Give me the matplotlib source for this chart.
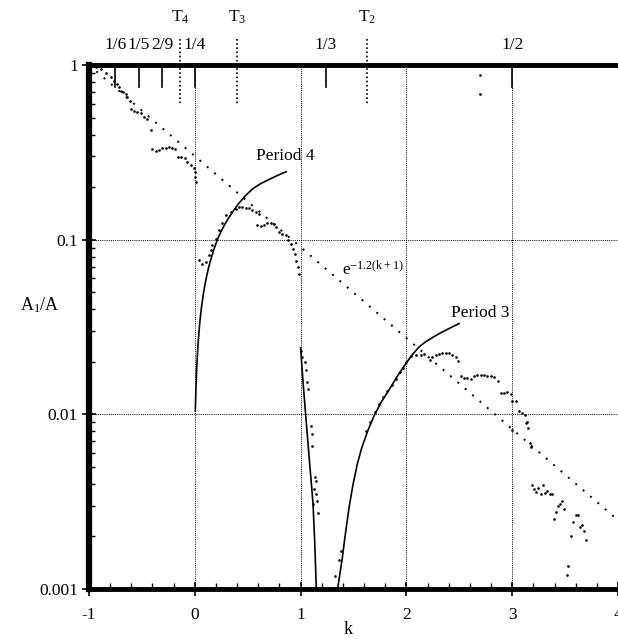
import matplotlib
matplotlib.use("Agg")
import matplotlib.pyplot as plt
import matplotlib.ticker as mticker
import matplotlib.transforms as mtrans
import numpy as np

plt.rcParams['font.family'] = ['Liberation Serif', 'DejaVu Serif']
plt.rcParams['mathtext.fontset'] = 'custom'
plt.rcParams['mathtext.rm'] = 'Liberation Serif'
plt.rcParams['mathtext.it'] = 'Liberation Serif:italic'
plt.rcParams['axes.unicode_minus'] = False

# ---------------- data ----------------
# numerical A1/A points
k_dots = [-0.937, -0.889, -0.842, -0.795, -0.764, -0.732, -0.716, -0.700, -0.676, -0.653,
          -0.638, -0.612, -0.606, -0.575, -0.543, -0.511, -0.480, -0.449, -0.417,
          -0.401, -0.370, -0.338, -0.307, -0.275, -0.244, -0.213, -0.190,
          -0.159, -0.128, -0.096, -0.071, -0.039, -0.008, 0.000, 0.005, 0.010,
          0.040, 0.071, 0.103, 0.134, 0.150, 0.166, 0.198, 0.229, 0.260, 0.292, 0.339,
          0.387, 0.418, 0.449, 0.481, 0.512, 0.544, 0.575, 0.607,
          0.591, 0.622, 0.654, 0.685, 0.717, 0.749, 0.770, 0.796, 0.827, 0.858,
          0.884, 0.906, 0.928, 0.947, 0.959, 0.972, 0.985,
          1.001, 1.010, 1.042, 1.054, 1.063, 1.073, 1.095, 1.104, 1.111, 1.117,
          1.127, 1.133, 1.142, 1.148, 1.151, 1.161,
          1.322, 1.363, 1.378,
          1.62, 1.66, 1.70, 1.74, 1.78, 1.82, 1.86, 1.90, 1.94, 1.97,
          1.993, 2.040, 2.088, 2.135, 2.166, 2.220, 2.245, 2.277, 2.308, 2.339,
          2.371, 2.403, 2.434, 2.466, 2.491,
          2.512, 2.544, 2.576, 2.607, 2.639, 2.670, 2.702, 2.733, 2.765, 2.797,
          2.828, 2.869,
          2.891, 2.922, 2.954, 2.986, 3.001, 3.033, 3.064, 3.096, 3.121, 3.143, 3.152,
          3.001, 3.127, 3.168, 3.175,
          3.184, 3.206, 3.228, 3.247, 3.269, 3.291, 3.310, 3.332, 3.354, 3.373,
          3.395, 3.417, 3.436, 3.449, 3.467, 3.492,
          3.556, 3.575, 3.600, 3.619, 3.638, 3.663, 3.682, 3.700, 3.530, 3.515,
          2.700, 2.700]
a_dots = [0.970, 0.945, 0.904, 0.857, 0.813, 0.778, 0.745, 0.713, 0.700, 0.682,
          0.653, 0.624, 0.557, 0.547, 0.540, 0.533, 0.501, 0.489, 0.425,
          0.329, 0.323, 0.326, 0.333, 0.337, 0.340, 0.337, 0.329,
          0.298, 0.296, 0.292, 0.279, 0.267, 0.256, 0.245, 0.230, 0.215,
          0.077, 0.073, 0.0747, 0.0815, 0.087, 0.093, 0.1016, 0.113, 0.124, 0.138, 0.144,
          0.150, 0.153, 0.154, 0.151, 0.151, 0.148, 0.144, 0.141,
          0.121, 0.120, 0.122, 0.125, 0.125, 0.123, 0.118, 0.111, 0.108, 0.106,
          0.100, 0.095, 0.089, 0.083, 0.076, 0.070, 0.064,
          0.0230, 0.0213, 0.0200, 0.0180, 0.0153, 0.0140, 0.00857, 0.00775, 0.00656, 0.00308,
          0.00375, 0.00437, 0.00415, 0.00348, 0.00318, 0.00273,
          0.00118, 0.00147, 0.00166,
          0.0080, 0.0091, 0.0103, 0.0114, 0.0125, 0.0136, 0.0148, 0.0160, 0.0174, 0.0185,
          0.0199, 0.0215, 0.0220, 0.0220, 0.0223, 0.0206, 0.0213, 0.0218, 0.0223, 0.0225,
          0.0226, 0.0225, 0.0220, 0.0213, 0.0202,
          0.0165, 0.0162, 0.0162, 0.0160, 0.0165, 0.0169, 0.0169, 0.0167, 0.0165, 0.0165,
          0.0164, 0.0155,
          0.0132, 0.0132, 0.0134, 0.0131, 0.0119, 0.0120, 0.0104, 0.0102, 0.00996, 0.00903, 0.0084,
          0.00817, 0.0089, 0.00685, 0.0065,
          0.00392, 0.00375, 0.00359, 0.00378, 0.00351, 0.00392, 0.00354, 0.00363, 0.00351, 0.00351,
          0.00252, 0.00275, 0.00297, 0.00305, 0.00318, 0.00288,
          0.00200, 0.00242, 0.00267, 0.00267, 0.00228, 0.00234, 0.00216, 0.00190, 0.00135, 0.00121,
          0.88, 0.68]

# Period 4 analytic curve (two branches)
p4_k = [0.005, 0.010, 0.015, 0.022, 0.030, 0.038, 0.045, 0.055, 0.065, 0.080, 0.095,
        0.110, 0.130, 0.150, 0.175, 0.200, 0.225, 0.250, 0.285, 0.323, 0.370, 0.418,
        0.480, 0.544, 0.620, 0.700, 0.780, 0.862]
p4_a = [0.0105, 0.0135, 0.0165, 0.0205, 0.0248, 0.0288, 0.0325, 0.0372, 0.0418, 0.0485, 0.0548,
        0.0610, 0.0690, 0.0765, 0.0860, 0.0950, 0.1040, 0.1120, 0.1230, 0.1340, 0.1480, 0.1620,
        0.1790, 0.1950, 0.2090, 0.2210, 0.2330, 0.2450]
p4b_k = [1.000, 1.025, 1.047, 1.067, 1.086, 1.102, 1.117, 1.133, 1.148, 1.152]
p4b_a = [0.0240, 0.0148, 0.0101, 0.0072, 0.0052, 0.0040, 0.0031, 0.0019, 0.00103, 0.0009]

# Period 3 analytic curve
p3_k = [1.340, 1.355, 1.372, 1.394, 1.420, 1.457, 1.495, 1.536, 1.580, 1.640, 1.694,
        1.760, 1.836, 1.910, 1.993, 2.060, 2.119, 2.180, 2.245, 2.310, 2.371, 2.435, 2.497]
p3_a = [0.0009, 0.00105, 0.00123, 0.00150, 0.00200, 0.00290, 0.00395, 0.00520, 0.00650, 0.00820,
        0.00980, 0.01170, 0.01380, 0.01640, 0.01950, 0.02210, 0.02430, 0.02600, 0.02750, 0.02900,
        0.03030, 0.03170, 0.03310]

# exponential fit e^{-1.2(k+1)} (straight on log axis)
exp_k = [-1.0, 4.0]
exp_a = [1.0, 0.00248]

# top annotations
frac_pos = [-0.75, -0.53, -0.31, 0.0, 1.24, 3.0]
frac_lab = ['1/6', '1/5', '2/9', '1/4', '1/3', '1/2']
T_pos = [-0.14, 0.40, 1.63]
T_lab = ['4', '3', '2']

xticks = [-1, 0, 1, 2, 3, 4]
yticks = [0.001, 0.01, 0.1, 1]
ytick_lab = ['0.001', '0.01', '0.1', '1']

# ---------------- figure ----------------
fig = plt.figure(figsize=(6.18, 6.39), dpi=100)
ax = fig.add_axes([0.144, 0.0782, 0.856, 0.820])
ax.set_yscale('log')
ax.set_xlim(-1, 4)
ax.set_ylim(0.001, 1)

# grid
for gx in [0, 1, 2, 3]:
    ax.axvline(gx, color='black', lw=0.7, ls=(0, (1, 1.2)), zorder=1)
for gy in [0.01, 0.1]:
    ax.axhline(gy, color='black', lw=0.7, ls=(0, (1, 1.2)), zorder=1)

# exponential
ax.plot(exp_k, exp_a, color='black', lw=1.4, ls=(0, (1, 4)), zorder=2)
# curves
ax.plot(p4_k, p4_a, color='black', lw=1.2, zorder=3)
ax.plot(p4b_k, p4b_a, color='black', lw=1.2, zorder=3)
ax.plot(p3_k, p3_a, color='black', lw=1.2, zorder=3)
# dots
ax.plot(k_dots, a_dots, ls='none', marker='o', ms=1.9, mew=0, color='black', zorder=4)

# text labels
ax.text(0.86, 0.30, 'Period 4', ha='center', va='center', fontsize=12.5)
ax.text(2.70, 0.038, 'Period 3', ha='center', va='center', fontsize=12.5)
ax.text(1.39, 0.067, r'e$^{\mathregular{-1.2(k+1)}}$', ha='left', va='center', fontsize=12.5)

# ticks
ax.set_xticks(xticks)
ax.set_xticklabels([str(v) for v in xticks])
ax.xaxis.set_minor_locator(mticker.MultipleLocator(0.2))
ax.set_yticks(yticks)
ax.set_yticklabels(ytick_lab)
ax.yaxis.set_minor_locator(mticker.LogLocator(base=10, subs=np.arange(2, 10)))
ax.yaxis.set_minor_formatter(mticker.NullFormatter())
ax.tick_params(which='major', direction='inout', length=10, width=1.2, labelsize=12.5,
               top=False, right=False)
ax.tick_params(axis='x', which='major', pad=8)
ax.tick_params(axis='y', which='major', pad=3)
ax.tick_params(which='minor', direction='in', length=4, width=1.0, top=False, right=False)

ax.spines['left'].set_linewidth(4.5)
for s in ['top', 'bottom']:
    ax.spines[s].set_linewidth(3.5)
ax.spines['right'].set_visible(False)

# top fraction ticks and T markers
trans = mtrans.blended_transform_factory(ax.transData, ax.transAxes)
for p, lab in zip(frac_pos, frac_lab):
    ax.plot([p, p], [1.0, 0.958], color='black', lw=1.2, transform=trans, clip_on=False)
    ax.text(p, 1.038, lab, ha='center', va='center', fontsize=12.5, transform=trans)
for p, lab in zip(T_pos, T_lab):
    ax.plot([p, p], [1.05, 0.924], color='black', lw=1.2, ls=(0, (1, 1.5)),
            transform=trans, clip_on=False)
    ax.text(p, 1.092, r'T$_{\mathregular{' + lab + '}}$', ha='center', va='center',
            fontsize=12.5, transform=trans)

# axis labels
fig.text(40 / 618, 1 - 305 / 639, r'A$_{\mathregular{1}}$/A', ha='center', va='center', fontsize=13)
fig.text(348 / 618, 1 - 630 / 639, 'k', ha='center', va='center', fontsize=13)

fig.savefig('out.png', dpi=100)
